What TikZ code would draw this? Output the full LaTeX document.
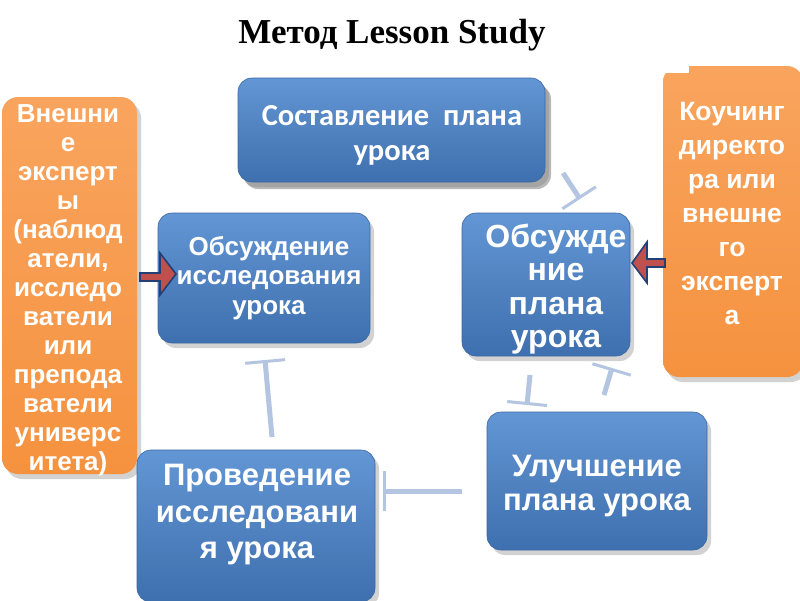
\documentclass[tikz,border=0pt]{standalone}
\usepackage{fontspec}
\setmainfont{Liberation Sans}
\newfontfamily\titlefont{Liberation Serif}
\newfontfamily\calfont{Carlito}
\usetikzlibrary{arrows.meta,shadows}
\definecolor{bluetop}{HTML}{6396D4}
\definecolor{bluebot}{HTML}{3E6FAE}
\definecolor{blueedge}{HTML}{3A68A3}
\definecolor{orangetop}{HTML}{F9A45E}
\definecolor{orangebot}{HTML}{F5923F}
\definecolor{conn}{HTML}{B3C5E0}
\definecolor{arrred}{HTML}{C0504D}
\definecolor{arrblue}{HTML}{243F73}
\tikzset{
  bluebox/.style={draw=blueedge, line width=0.6pt, rounded corners=14pt, top color=bluetop, bottom color=bluebot,
     drop shadow={shadow xshift=4pt, shadow yshift=-5pt, opacity=0.35}, inner sep=0pt},
  orangebox/.style={draw=none, rounded corners=16pt, top color=orangetop, bottom color=orangebot,
     drop shadow={shadow xshift=4pt, shadow yshift=-5pt, opacity=0.35}, inner sep=0pt},
  boxtext/.style={text=white, align=center, inner sep=0pt, font=\bfseries},
  connector/.style={draw=conn, line width=5pt, -{Bar[width=40pt 0 0, line width=3pt]}},
  blockarrow/.style={fill=arrred, draw=arrblue, line width=1.6pt, line join=miter},
}
\begin{document}
\begin{tikzpicture}[x=1pt,y=-1pt]
\useasboundingbox (0,0) rectangle (800,600);
\fill[white] (0,0) rectangle (800,600);

% title
\node[font=\titlefont\bfseries\fontsize{35}{40}\selectfont] (title) at (392,35) {Метод Lesson Study};

% orange side boxes
\node[orangebox, minimum width=135pt, minimum height=377pt] (leftor) at (69.5,285.5) {};
\node[orangebox, minimum width=140pt, minimum height=311pt] (rightor) at (733,221.5) {};
\fill[white] (660,58) rectangle (689,73);

% blue boxes
\node[bluebox, minimum width=307pt, minimum height=104pt, drop shadow={shadow xshift=6pt, shadow yshift=-7pt, opacity=0.55}] (plan) at (391.5,130) {};
\node[bluebox, minimum width=212pt, minimum height=130pt] (discles) at (264,278) {};
\node[bluebox, minimum width=168pt, minimum height=143pt] (discplan) at (546,284.5) {};
\node[bluebox, minimum width=220pt, minimum height=138pt] (improve) at (597,481) {};
\node[bluebox, minimum width=238pt, minimum height=152pt] (conduct) at (256,526) {};

% texts
\node[boxtext, font=\calfont\bfseries\fontsize{30.5}{35}\selectfont] (tplan) at (392,135) {Составление\ \ плана\\урока};
\node[boxtext, font=\bfseries\fontsize{26}{29.5}\selectfont] (tdiscles) at (269,278) {Обсуждение\\исследования\\урока};
\node[boxtext, font=\bfseries\fontsize{32}{33.5}\selectfont] (tdiscplan) at (556,289) {Обсужде\\ние\\плана\\урока};
\node[boxtext, font=\bfseries\fontsize{31}{34}\selectfont] (timprove) at (597,486) {Улучшение\\плана урока};
\node[boxtext, font=\bfseries\fontsize{31}{36.5}\selectfont] (tconduct) at (257,515) {Проведение\\исследовани\\я урока};
\node[boxtext, font=\bfseries\fontsize{26}{29}\selectfont] (tleftor) at (68,290) {Внешни\\е\\эксперт\\ы\\(наблюд\\атели,\\исследо\\ватели\\или\\препода\\ватели\\универс\\итета)};
\node[boxtext, font=\bfseries\fontsize{26.5}{34}\selectfont] (trightor) at (732,214) {Коучинг\\директо\\ра или\\внешне\\го\\эксперт\\а};

% connectors
\coordinate (c1s) at (563,173); \coordinate (c1e) at (580,199);
\coordinate (c2s) at (530,375); \coordinate (c2e) at (527,405);
\coordinate (c3s) at (604,395); \coordinate (c3e) at (612,368);
\coordinate (c4s) at (462,491); \coordinate (c4e) at (383,491);
\coordinate (c5s) at (272,437); \coordinate (c5e) at (265,360);
\draw[connector] (c1s) -- (c1e);
\draw[connector] (c2s) -- (c2e);
\draw[connector] (c3s) -- (c3e);
\draw[connector] (c4s) -- (c4e);
\draw[connector] (c5s) -- (c5e);

% block arrows
\draw[blockarrow] (140,273) -- (160,273) -- (160,253) -- (176,274) -- (160,295) -- (160,281) -- (140,281) -- cycle;
\draw[blockarrow] (665,267) -- (647,267) -- (647,283) -- (632,263) -- (647,242) -- (647,259) -- (665,259) -- cycle;
\end{tikzpicture}
\end{document}
